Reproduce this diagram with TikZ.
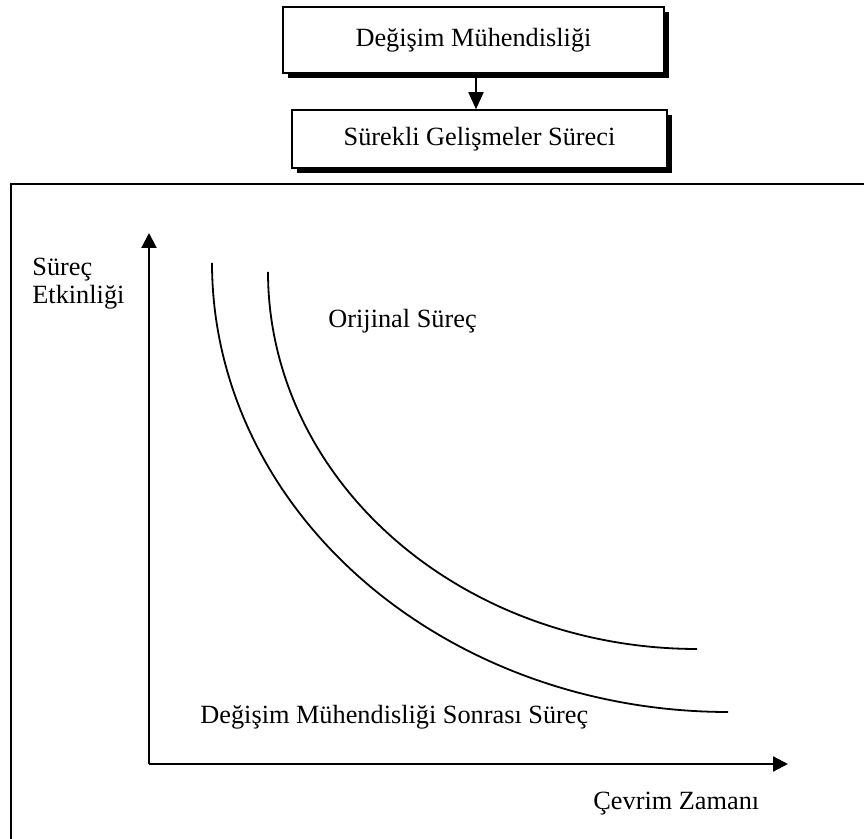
\documentclass[tikz,border=0pt]{standalone}
\usepackage{fontspec}
\setmainfont{Liberation Serif}
\usetikzlibrary{arrows.meta,shadows}
\begin{document}
\begin{tikzpicture}[x=0.5pt,y=-0.5pt,
  font=\fontsize{13.15}{14}\selectfont,
  procbox/.style={draw, line width=0.75pt, fill=white, inner sep=0pt,
    drop shadow={shadow xshift=2.5pt, shadow yshift=-2.5pt, fill=black, opacity=1}},
  axis/.style={line width=1.1pt, -{Triangle[length=7.5pt,width=7.5pt]}},
  flow/.style={line width=0.9pt, -{Triangle[length=8.5pt,width=7.5pt]}},
  curve/.style={line width=0.9pt},
  label/.style={inner sep=0pt, anchor=base west},
]
\useasboundingbox (0,0) rectangle (864,839);
\clip (0,0) rectangle (864,839);

% process boxes with drop shadows
\node[procbox, minimum width=190.5pt, minimum height=33pt] (b1) at (473.5,40) {Değişim Mühendisliği};
\node[procbox, minimum width=187.5pt, minimum height=29pt] (b2) at (479.5,139) {Sürekli Gelişmeler Süreci};
\coordinate (arrx) at (476,0);
\draw[flow] (b1.south -| arrx) -- (b2.north -| arrx);

% outer frame (runs off the right and bottom edges)
\coordinate (fbl) at (11,860);
\coordinate (ftl) at (11,184);
\coordinate (ftr) at (880,184);
\draw[line width=1.1pt] (fbl) -- (ftl) -- (ftr);

% axes
\coordinate (O) at (149,764);
\coordinate (ytop) at (149,233);
\coordinate (xend) at (788,764);
\draw[axis] (O) -- (ytop);
\draw[axis] (O) -- (xend);

% quarter-ellipse curves: after change engineering (inner) and original (outer)
\draw[curve] plot[domain=180:270, samples=90, smooth]
  ({728 + 516*cos(\x)}, {263 - 449*sin(\x)});
\draw[curve] plot[domain=180:270, samples=90, smooth]
  ({697 + 429*cos(\x)}, {272 - 377*sin(\x)});

% labels
\node[inner sep=0pt, anchor=north west, align=left] (ylab) at (32,258) {Süreç\\Etkinliği};
\node[label] (orig) at (328,328) {Orijinal Süreç};
\node[label] (after) at (200,724) {Değişim Mühendisliği Sonrası Süreç};
\node[label] (xlab) at (593,810) {Çevrim Zamanı};
\end{tikzpicture}
\end{document}
